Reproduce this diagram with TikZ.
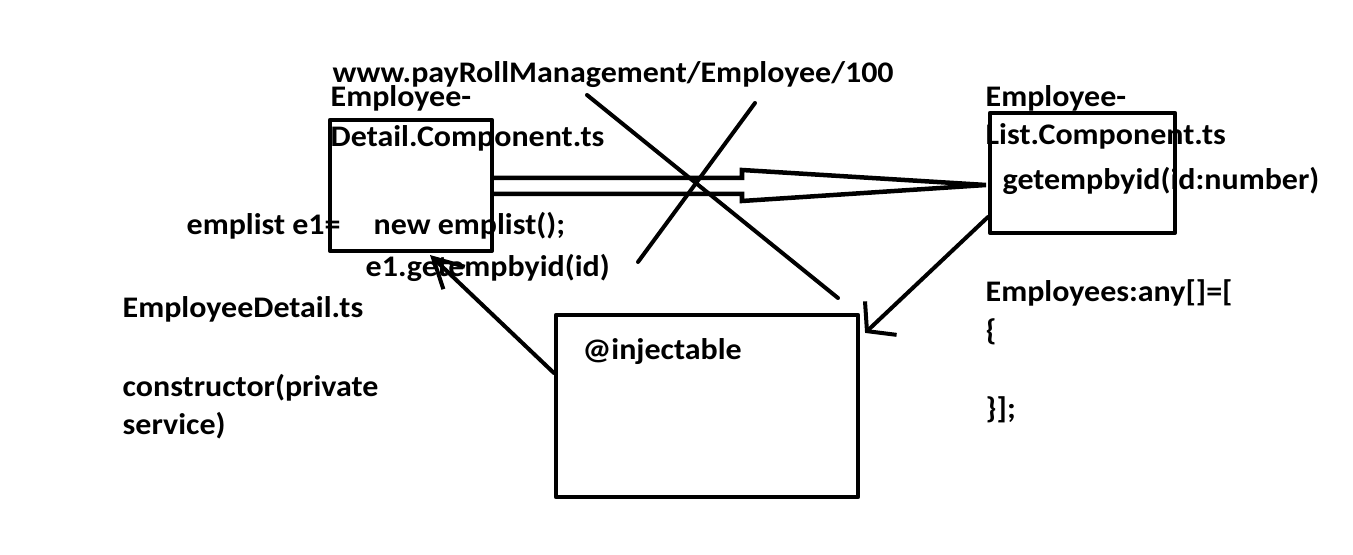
\documentclass[tikz,border=0pt]{standalone}
\usepackage{fontspec}
\setmainfont[FakeStretch=1.07]{Carlito}
\usetikzlibrary{arrows.meta, calc}

\tikzset{
  box/.style={draw, line width=0.04cm, inner sep=0pt},
  code/.style={anchor=base west, inner sep=0pt, font=\fontsize{8.5}{11}\selectfont\bfseries},
}

\begin{document}
\begin{tikzpicture}[line cap=round,line join=round,x=0.01cm,y=-0.01cm]
\useasboundingbox (0,0) rectangle (1353,555);

% boxes
\node[box, minimum width=1.62cm, minimum height=1.31cm] (detail) at (411,185.5) {};
\node[box, minimum width=1.85cm, minimum height=1.20cm] (list) at (1082.5,173) {};
\node[box, minimum width=3.02cm, minimum height=1.82cm] (inject) at (707,406) {};

% double arrow detail <- list
\coordinate (s1) at ($(detail.east)+(0,-7.5)$);
\coordinate (s2) at ($(detail.east)+(0,8.5)$);
\coordinate (tip) at ($(list.west)+(-2,12)$);
\draw [line width=0.045cm, line join=miter] (s1) -- (742,178) -- (742,170) -- (tip) -- (742,201) -- (742,194) -- (s2);

% cross
\draw [line width=0.04cm] (587,95) -- (838,298);
\draw [line width=0.04cm] (755,103) -- (638,262);

% service arrows
\draw [line width=0.04cm, -{Straight Barb[length=0.29cm,width=0.31cm]}] ($(inject.west)+(0,-33)$) -- ($(detail.south)+(19,2)$);
\draw [line width=0.04cm, -{Straight Barb[length=0.19cm,width=0.46cm]}] ($(list.south west)+(0,-18)$) -- ($(inject.north east)+(5,20)$);

\node[code] (url) at (332,83) {www.payRollManagement/Employee/100};
\node[code] (detailA) at (330,107) {Employee-};
\node[code] (detailB) at (330,147) {Detail.Component.ts};
\node[code] (listA) at (985,107) {Employee-};
\node[code] (listB) at (985,145) {List.Component.ts};
\node[code] (getemp) at (1002,190) {getempbyid(id:number)};
\node[code] (decl) at (186,235) {emplist e1=};
\node[code] (newobj) at (373,235) {new emplist();};
\node[code] (call) at (365,277) {e1.getempbyid(id)};
\node[code] (file) at (122,318) {EmployeeDetail.ts};
\node[code] (ctorA) at (122,397) {constructor(private};
\node[code] (ctorB) at (122,435) {service)};
\node[code] (injlabel) at (582,360) {@injectable};
\node[code] (arrA) at (985,302) {Employees:any[]=[};
\node[code] (arrB) at (985,341) {\{};
\node[code] (arrC) at (985,419) {\}];};

\end{tikzpicture}
\end{document}
